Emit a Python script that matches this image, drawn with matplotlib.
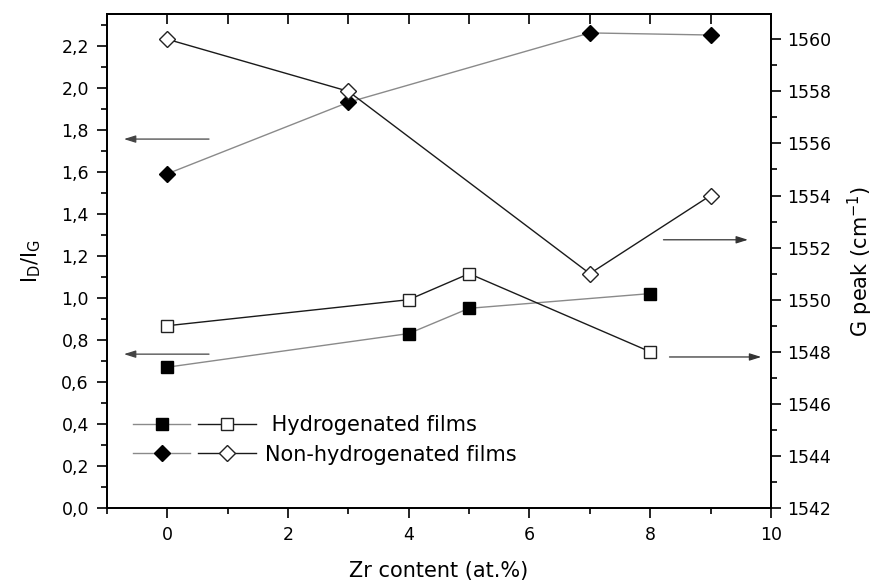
import matplotlib
matplotlib.use("Agg")
import matplotlib.pyplot as plt
from matplotlib.ticker import MultipleLocator, FuncFormatter
from matplotlib.legend_handler import HandlerTuple

plt.rcParams['font.family'] = ['DejaVu Sans']
plt.rcParams['mathtext.fontset'] = 'dejavusans'

# ---- data ----
zr_h = [0, 4, 5, 8]
idig_h = [0.67, 0.83, 0.95, 1.02]
gpeak_h = [1549, 1550, 1551, 1548]

zr_nh = [0, 3, 7, 9]
idig_nh = [1.59, 1.93, 2.26, 2.25]
gpeak_nh = [1560, 1558, 1551, 1554]

legend_labels = [" Hydrogenated films", "Non-hydrogenated films"]

# arrows: (x_start, x_end, y) ; left-axis arrows and right-axis arrows
arrows_left = [(0.69, -0.72, 1.755), (0.69, -0.72, 0.732)]
arrows_right = [(8.22, 9.62, 1552.3), (8.32, 9.84, 1547.8)]

fig = plt.figure(figsize=(8.78, 5.83), dpi=100)
ax = fig.add_axes([0.1219, 0.1286, 0.878 - 0.1219, 0.976 - 0.1286])
ax2 = ax.twinx()

grey = '#8a8a8a'
dark = '#1a1a1a'

l1, = ax.plot(zr_h, idig_h, color=grey, lw=1.0, marker='s', ms=8,
              mfc='black', mec='black', mew=1.0)
l2, = ax.plot(zr_nh, idig_nh, color=grey, lw=1.0, marker='D', ms=7.8,
              mfc='black', mec='black', mew=1.0)
r1, = ax2.plot(zr_h, gpeak_h, color=dark, lw=1.0, marker='s', ms=8,
               mfc='white', mec='#222222', mew=1.0)
r2, = ax2.plot(zr_nh, gpeak_nh, color=dark, lw=1.0, marker='D', ms=7.8,
               mfc='white', mec='#222222', mew=1.0)

ax.set_xlim(-1, 10)
ax.set_ylim(0, 2.35)
ax2.set_ylim(1542, 1560.97)

for (xs, xe, y) in arrows_left:
    ax.annotate('', xy=(xe, y), xytext=(xs, y),
                arrowprops=dict(arrowstyle='-|>,head_length=0.7,head_width=0.22',
                                color='#444444', lw=0.9, shrinkA=0, shrinkB=0))
for (xs, xe, y) in arrows_right:
    ax2.annotate('', xy=(xe, y), xytext=(xs, y),
                 arrowprops=dict(arrowstyle='-|>,head_length=0.7,head_width=0.22',
                                 color='#333333', lw=0.9, shrinkA=0, shrinkB=0))

comma = FuncFormatter(lambda v, p: f"{v:.1f}".replace('.', ','))
ax.yaxis.set_major_locator(MultipleLocator(0.2))
ax.yaxis.set_minor_locator(MultipleLocator(0.1))
ax.yaxis.set_major_formatter(comma)
ax.xaxis.set_major_locator(MultipleLocator(2))
ax.xaxis.set_minor_locator(MultipleLocator(1))
ax2.yaxis.set_major_locator(MultipleLocator(2))
ax2.yaxis.set_minor_locator(MultipleLocator(1))

for a in (ax, ax2):
    for s in a.spines.values():
        s.set_linewidth(1.3)

ax.tick_params(axis='x', which='major', direction='out', length=7, width=1.2,
               labelsize=12.5, pad=6, top=False)
ax.tick_params(axis='x', which='minor', direction='out', length=4, width=1.2, top=False)
ax.tick_params(axis='y', which='major', direction='out', length=7, width=1.2,
               labelsize=12.5, pad=6)
ax.tick_params(axis='y', which='minor', direction='out', length=4.5, width=1.2)
ax2.tick_params(axis='y', which='major', direction='out', length=7, width=1.2,
                labelsize=12.5, pad=5)
ax2.tick_params(axis='y', which='minor', direction='out', length=4.5, width=1.2)

# top ticks inward every 1 unit
secx = ax.secondary_xaxis('top')
secx.xaxis.set_major_locator(MultipleLocator(1))
secx.tick_params(axis='x', direction='in', length=7, width=1.2, labeltop=False)
secx.spines['top'].set_linewidth(1.3)

ax.set_xlabel('Zr content (at.%)', fontsize=15, labelpad=12.5)
ax.set_ylabel(r'$\mathregular{I_D/I_G}$', fontsize=15, labelpad=13)
ax2.set_ylabel(r'G peak (cm$^{\mathregular{-1}}$)', fontsize=15, labelpad=10)

leg = ax.legend([(l1, r1), (l2, r2)], legend_labels,
                handler_map={tuple: HandlerTuple(ndivide=None, pad=0.38)},
                loc='upper left', bbox_to_anchor=(0.039, 0.188), frameon=False,
                fontsize=15, handlelength=5.9, handletextpad=0.43,
                borderpad=0, borderaxespad=0,
                labelspacing=0.45, numpoints=1)

fig.savefig('out.png', dpi=100)
